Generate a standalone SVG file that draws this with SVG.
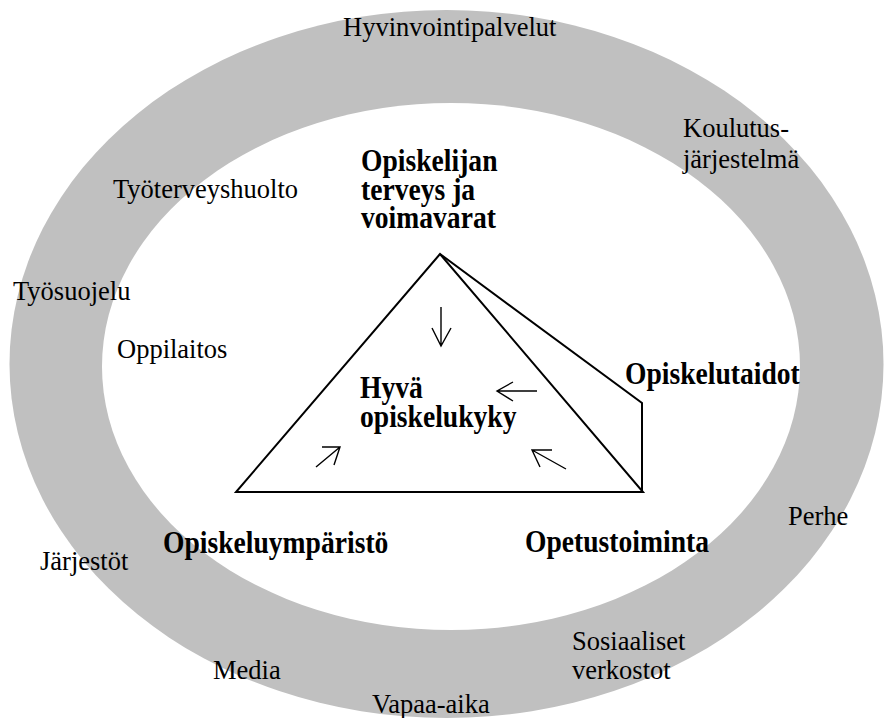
<svg xmlns="http://www.w3.org/2000/svg" width="884" height="718" viewBox="0 0 884 718">
<style>
.r{font-family:"Liberation Serif","Times New Roman",serif;font-size:26.5px;fill:#000}
.b{font-family:"Liberation Serif","Times New Roman",serif;font-size:27.6px;font-weight:bold;fill:#000}
.tri{fill:none;stroke:#000;stroke-width:2;stroke-linejoin:miter}
.arr{fill:none;stroke:#000;stroke-width:1.4}
</style>
<rect width="884" height="718" fill="#fff"/>
<g id="ring">
<ellipse cx="446.5" cy="364" rx="437" ry="354" fill="#c0c0c0"/>
<ellipse cx="451" cy="366.5" rx="349" ry="263.5" fill="#fff"/>
</g>
<g id="outer-labels">
<text class="r" x="343" y="36">Hyvinvointipalvelut</text>
<text class="r" x="683" y="137">Koulutus-</text>
<text class="r" x="683" y="168">järjestelmä</text>
<text class="r" x="13" y="300">Työsuojelu</text>
<text class="r" x="788" y="525">Perhe</text>
<text class="r" x="40" y="570">Järjestöt</text>
<text class="r" x="572" y="650">Sosiaaliset</text>
<text class="r" x="572" y="679">verkostot</text>
<text class="r" x="213" y="679">Media</text>
<text class="r" x="372" y="713">Vapaa-aika</text>
</g>
<g id="inner-labels">
<text class="r" x="113" y="198">Työterveyshuolto</text>
<text class="r" x="117" y="358">Oppilaitos</text>
</g>
<g id="pyramid">
<polygon class="tri" points="440,254 236,492 643,492"/>
<polyline class="tri" points="440,254 642,403 642,492"/>
</g>
<g id="node-health">
<text class="b" transform="translate(361,171) scale(1,1.12)">Opiskelijan</text>
<text class="b" transform="translate(361,200) scale(1,1.12)">terveys ja</text>
<text class="b" transform="translate(361,228) scale(1,1.12)">voimavarat</text>
</g>
<g id="node-center">
<text class="b" transform="translate(360,398) scale(1,1.12)">Hyvä</text>
<text class="b" transform="translate(360,427) scale(1,1.12)">opiskelukyky</text>
</g>
<g id="node-skills">
<text class="b" transform="translate(625,384) scale(1,1.12)">Opiskelutaidot</text>
</g>
<g id="node-environment">
<text class="b" transform="translate(163,553) scale(1,1.12)">Opiskeluympäristö</text>
</g>
<g id="node-teaching">
<text class="b" transform="translate(525,552) scale(1,1.12)">Opetustoiminta</text>
</g>
<g id="connectors">
<path class="arr" d="M441,307 V346 M432,328 L441,346 L451,328"/>
<path class="arr" d="M537,391 H497 M513,382 L497,391 L513,401"/>
<path class="arr" d="M566,469 L532,450 M552,450 L532,450 L540,467"/>
<path class="arr" d="M316,467 L340,447 M322,447 L340,447 L334,465"/>
</g>
</svg>
